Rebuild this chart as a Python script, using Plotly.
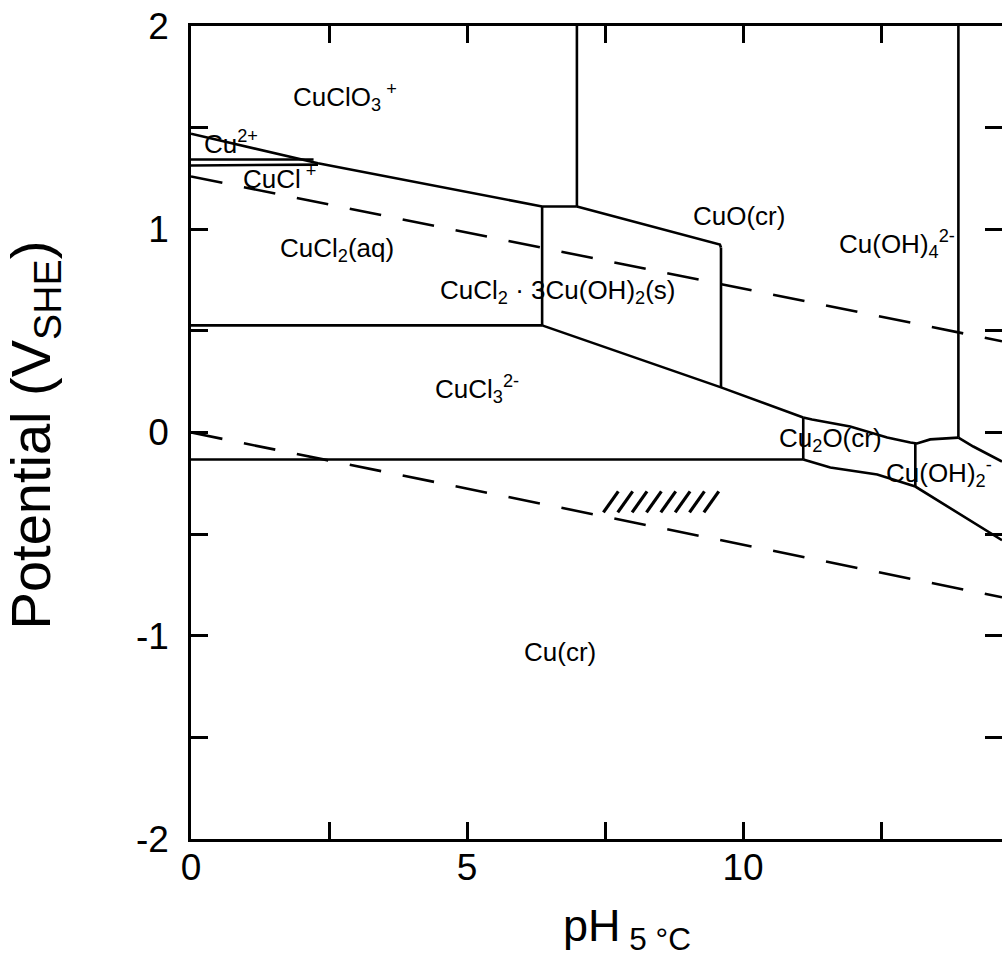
import plotly.graph_objects as go

# ---------------- data (pH, E in V_SHE) ----------------
# solid phase boundaries
clo3_low_ph = [0.0, 2.3, 6.36, 6.99]
clo3_low_e = [1.47, 1.325, 1.112, 1.112]

clo3_cuo_ph = [6.99, 6.99]
clo3_cuo_e = [1.112, 2.0]

cuo_top_ph = [6.99, 9.58, 9.60]
cuo_top_e = [1.112, 0.925, 0.91]

cuo_vert_ph = [9.60, 9.60]
cuo_vert_e = [0.91, 0.222]

cucl2_vert_ph = [6.36, 6.36]
cucl2_vert_e = [1.112, 0.527]

cucl2_cucl3_ph = [0.0, 6.36]
cucl2_cucl3_e = [0.527, 0.527]

cu2_cucl_ph = [0.0, 2.22]
cu2_cucl_e = [1.343, 1.343]

cucl_cucl2_ph = [0.0, 2.3]
cucl_cucl2_e = [1.314, 1.318]

low_ox_ph = [6.36, 9.60, 11.09]
low_ox_e = [0.527, 0.222, 0.074]

cucl3_cu_ph = [0.0, 11.09]
cucl3_cu_e = [-0.133, -0.133]

cu2o_vert_ph = [11.09, 11.09]
cu2o_vert_e = [0.074, -0.133]

cu2o_top_ph = [11.09, 11.25, 11.94, 12.61, 13.03, 13.15, 13.39, 13.90]
cu2o_top_e = [0.074, 0.064, 0.030, -0.025, -0.049, -0.054, -0.034, -0.025]

oh4_vert_ph = [13.90, 13.90]
oh4_vert_e = [-0.025, 2.0]

oh4_low_ph = [13.90, 14.17, 14.69]
oh4_low_e = [-0.025, -0.069, -0.143]

oh2_vert_ph = [13.12, 13.12]
oh2_vert_e = [-0.052, -0.266]

cu_top_ph = [11.09, 11.58, 12.43, 13.12, 14.69]
cu_top_e = [-0.133, -0.172, -0.207, -0.266, -0.53]

# water stability lines (dashed)
o2_ph = [0.0, 14.69]
o2_e = [1.26, 0.449]
h2_ph = [0.0, 14.69]
h2_e = [0.0, -0.811]

# hatched measurement zone
hatch_ph = [7.47, 7.73, 7.99, 8.25, 8.51, 8.77, 9.03, 9.29]
hatch_e = [-0.393, -0.29]
hatch_dph = 0.27

# region labels
label_text = ["CuClO<sub>3</sub><sup> +</sup>", "Cu<sup>2+</sup>", "CuCl<sup> +</sup>",
              "CuCl<sub>2</sub>(aq)", "CuCl<sub>2</sub> · 3Cu(OH)<sub>2</sub>(s)",
              "CuCl<sub>3</sub><sup>2-</sup>", "CuO(cr)", "Cu(OH)<sub>4</sub><sup>2-</sup>",
              "Cu<sub>2</sub>O(cr)", "Cu(OH)<sub>2</sub><sup>-</sup>", "Cu(cr)"]
label_ph = [2.79, 0.72, 1.61, 2.64, 6.65, 5.18, 9.93, 12.79, 11.58, 13.55, 6.68]
label_e = [1.653, 1.427, 1.255, 0.900, 0.694, 0.212, 1.063, 0.925, -0.034, -0.197, -1.078]

x_ticks = [0, 2.5, 5, 7.5, 10, 12.5]
x_ticktext = ["0", "", "5", "", "10", ""]
y_ticks = [-2, -1.5, -1, -0.5, 0, 0.5, 1, 1.5, 2]
y_ticktext = ["-2", "", "-1", "", "0", "", "1", "", "2"]

X_RANGE = [0, 14.69]
Y_RANGE = [-2, 2]

# ---------------- figure ----------------
FONT = "Liberation Sans, Arial, sans-serif"
LW = 2.6

fig = go.Figure()

solid = [
    (clo3_low_ph, clo3_low_e), (clo3_cuo_ph, clo3_cuo_e), (cuo_top_ph, cuo_top_e),
    (cuo_vert_ph, cuo_vert_e), (cucl2_vert_ph, cucl2_vert_e), (cucl2_cucl3_ph, cucl2_cucl3_e),
    (cu2_cucl_ph, cu2_cucl_e), (cucl_cucl2_ph, cucl_cucl2_e), (low_ox_ph, low_ox_e),
    (cucl3_cu_ph, cucl3_cu_e), (cu2o_vert_ph, cu2o_vert_e), (cu2o_top_ph, cu2o_top_e),
    (oh4_vert_ph, oh4_vert_e), (oh4_low_ph, oh4_low_e), (oh2_vert_ph, oh2_vert_e),
    (cu_top_ph, cu_top_e),
]
for xs, ys in solid:
    fig.add_trace(go.Scatter(x=xs, y=ys, mode="lines",
                             line=dict(color="black", width=LW),
                             showlegend=False, hoverinfo="skip"))

for xs, ys in [(o2_ph, o2_e), (h2_ph, h2_e)]:
    fig.add_trace(go.Scatter(x=xs, y=ys, mode="lines",
                             line=dict(color="black", width=LW, dash="32px,22px"),
                             showlegend=False, hoverinfo="skip"))

hx, hy = [], []
for p in hatch_ph:
    hx += [p, p + hatch_dph, None]
    hy += [hatch_e[0], hatch_e[1], None]
fig.add_trace(go.Scatter(x=hx, y=hy, mode="lines",
                         line=dict(color="black", width=3.2),
                         showlegend=False, hoverinfo="skip"))

# invisible trace for the right-hand tick axis
fig.add_trace(go.Scatter(x=[0], y=[0], yaxis="y2", mode="markers",
                         marker=dict(opacity=0), showlegend=False, hoverinfo="skip"))

for t, px, py in zip(label_text, label_ph, label_e):
    fig.add_annotation(x=px, y=py, text=t, showarrow=False,
                       font=dict(family=FONT, size=26, color="black"))

# axis titles
fig.add_annotation(xref="paper", yref="paper", x=0.537, y=-0.11,
                   xanchor="center", yanchor="middle",
                   text="pH<sub> 5 °C</sub>", showarrow=False,
                   font=dict(family=FONT, size=45, color="black"))
fig.add_annotation(xref="paper", yref="paper", x=-0.193, y=0.497, textangle=-90,
                   xanchor="center", yanchor="middle",
                   text="Potential (V<sub>SHE</sub>)", showarrow=False,
                   font=dict(family=FONT, size=56, color="black"))

fig.update_layout(
    width=1002, height=966,
    margin=dict(l=191, r=0, t=26, b=127),
    plot_bgcolor="white", paper_bgcolor="white",
    xaxis=dict(range=X_RANGE, tickvals=x_ticks, ticktext=x_ticktext,
               ticks="inside", ticklen=17, tickwidth=2.5, tickcolor="black",
               showline=True, linecolor="black", linewidth=2.5, mirror="ticks",
               showgrid=False, zeroline=False, ticklabelstandoff=-6,
               tickfont=dict(family=FONT, size=37, color="black")),
    yaxis=dict(range=Y_RANGE, tickvals=y_ticks, ticktext=y_ticktext,
               ticks="inside", ticklen=17, tickwidth=2.5, tickcolor="black",
               showline=True, linecolor="black", linewidth=2.5, mirror=False,
               showgrid=False, zeroline=False, ticklabelstandoff=12,
               tickfont=dict(family=FONT, size=37, color="black")),
    yaxis2=dict(range=Y_RANGE, overlaying="y", side="right", anchor="x",
                tickvals=y_ticks, ticks="inside", ticklen=17, tickwidth=2.5,
                tickcolor="black", showticklabels=False, showline=False,
                showgrid=False, zeroline=False),
)

fig.write_html(
    "out.html",
    config={"displayModeBar": False},
    post_script="document.body.style.margin='0px';document.body.style.overflow='hidden';",
)
